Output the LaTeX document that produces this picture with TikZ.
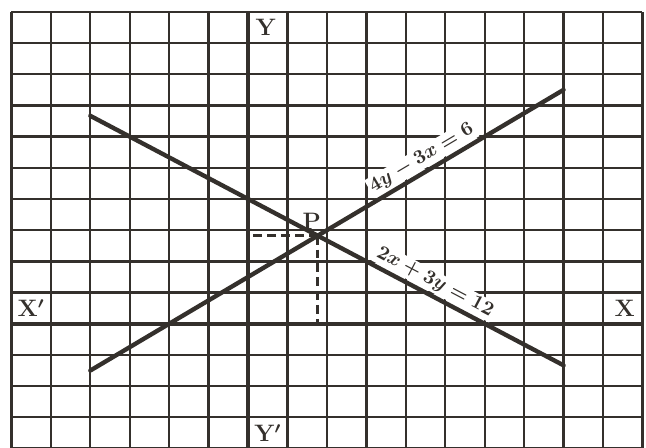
\documentclass[tikz,border=0pt]{standalone}
\definecolor{inchiostro}{RGB}{52,48,44}

\begin{document}
\begin{tikzpicture}[
    x=0.7cm, y=0.5536cm,
    font=\large\bfseries\boldmath,
    griglia/.style={inchiostro, line width=1.15pt},
    asse/.style={inchiostro, line width=2pt},
    retta/.style={inchiostro, line width=2.2pt, line cap=round},
    tratt/.style={inchiostro, line width=1.4pt, dash pattern=on 4.5pt off 2.5pt},
    et/.style={text=inchiostro, inner sep=1pt},
    eq/.style={et, fill=white, font=\normalsize\bfseries\boldmath, sloped, behind path},
  ]

  % ---- cornice ---------------------------------------------------------------
  \clip (-6.29,-3.97) rectangle (10.09,10.38);
  \fill[white] (-6.29,-3.97) rectangle (10.09,10.38);

  % ---- quadrettatura ----------------------------------------------------------
  \foreach \i in {-6,...,10} \draw[griglia] (\i,-4.5) -- (\i,10);
  \foreach \j in {-4,...,10} \draw[griglia] (-6,\j) -- (10,\j);

  % ---- assi -------------------------------------------------------------------
  \coordinate (O) at (0,0);
  \draw[asse] (0,-4.5) -- (0,10);
  \draw[asse] (-6,0) -- (10,0);

  % ---- le due rette e il punto d'incontro ----------------------------------------
  \coordinate (A1) at (-4,-1.5);   \coordinate (A2) at (8,7.5);    % 4y-3x=6
  \coordinate (B1) at (-4,20/3);   \coordinate (B2) at (8,-4/3);   % 2x+3y=12
  \coordinate (P)  at (30/17,48/17);

  \draw[tratt] (P) -- (P -| O);
  \draw[tratt] (P) -- (P |- O);

  \draw[retta] (A1) -- (A2) node[eq, pos=0.715, above=0.5pt] {$4y-3x=6$};
  \draw[retta] (B1) -- (B2) node[eq, pos=0.715, above=0.5pt] {$2x+3y=12$};

  % ---- etichette --------------------------------------------------------------
  \node[et, fill=white] (lY)  at (0.45,9.5)  {Y};
  \node[et, fill=white] (lYp) at (0.5,-3.5)  {Y$'$};
  \node[et]             (lXp) at (-5.5,0.5)  {X$'$};
  \node[et]             (lX)  at (9.55,0.5)  {X};
  \node[et, above=2pt, xshift=-3pt] (lP) at (P) {P};

\end{tikzpicture}
\end{document}
